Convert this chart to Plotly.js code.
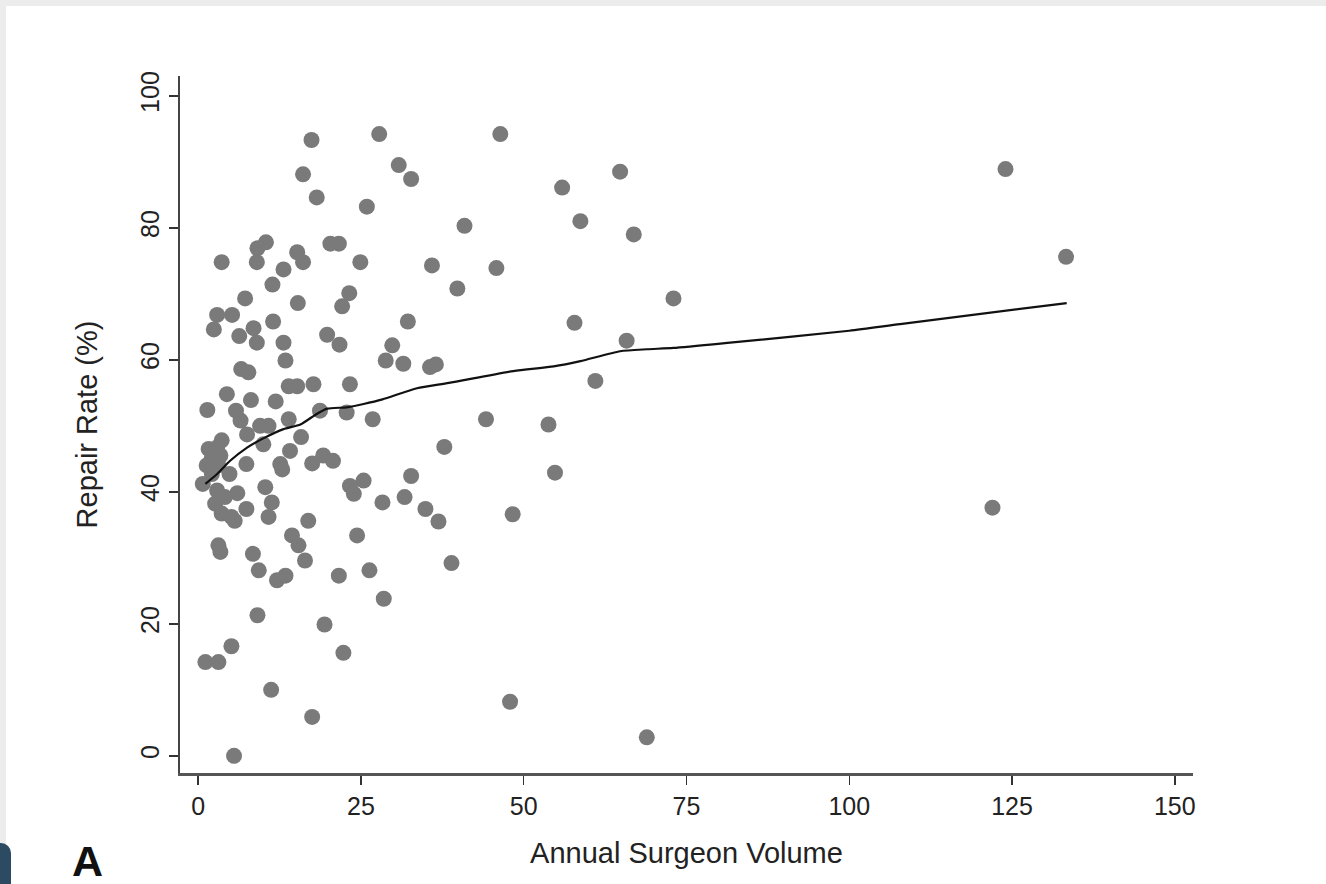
<!DOCTYPE html>
<html>
<head>
<meta charset="utf-8">
<script src="https://cdn.plot.ly/plotly-3.0.1.min.js"></script>
<style>
  html, body { margin: 0; padding: 0; width: 1326px; height: 884px; overflow: hidden; background: #ececec; }
  #card { position: absolute; left: 6px; top: 6px; width: 1320px; height: 878px; background: #ffffff; }
  #tab { position: absolute; left: 0; top: 843px; width: 11px; height: 41px; background: #2d4a63; border-radius: 0 10px 0 0; }
  #chart { position: absolute; left: 0; top: 0; width: 1326px; height: 884px; }
</style>
</head>
<body>
<div id="card"></div>
<div id="tab"></div>
<div id="chart"></div>
<script>
// Surgeon-level data: annual surgeon volume vs repair rate (%)
const surgeonVolume = [
  17.4, 27.8, 46.4, 16.1, 30.8, 32.7, 18.2, 25.9, 55.9, 64.8, 124.0, 40.9, 58.7, 66.9,
  10.4, 9.1, 9.0, 15.2, 16.1, 20.3, 21.6, 24.9, 35.9, 45.8, 3.6, 13.1, 11.4, 39.8, 73.0, 133.3,
  7.2, 15.3, 23.2, 22.1, 2.9, 5.2, 2.4, 11.5, 32.2, 57.8, 6.3, 8.5, 9.0, 13.1, 19.8, 21.7,
  29.8, 65.8, 13.4, 28.8, 31.5, 35.6, 36.5, 6.6, 7.7,
  61.0, 4.4, 13.9, 15.2, 17.7, 23.3, 1.4, 5.8, 8.1, 11.9, 6.5, 9.5, 10.8, 7.5, 10.0, 13.9,
  15.8, 18.7, 22.8, 26.8, 44.2, 53.8, 37.8, 3.6, 1.6, 2.9, 2.1, 3.4, 1.3, 3.1, 2.1, 4.8,
  7.4, 14.1, 12.6, 12.9, 17.5, 19.2, 20.7, 23.3, 25.4, 23.9, 32.7, 54.8, 0.7, 2.9, 6.0, 10.3, 122.0,
  4.1, 28.3, 31.7, 11.3, 2.6, 7.4, 34.9, 3.6, 5.1, 10.8, 16.9, 36.9, 48.3, 5.6,
  3.1, 3.4, 8.4, 9.3, 14.4, 15.4, 16.4, 12.1, 13.4, 24.4, 21.6, 26.3, 28.5, 38.9,
  9.1, 19.4, 22.3, 5.1, 1.1, 3.1, 11.2, 17.5, 5.5, 47.9, 68.9
];
const repairRate = [
  93.3, 94.2, 94.2, 88.1, 89.5, 87.4, 84.6, 83.2, 86.1, 88.5, 88.9, 80.3, 81.0, 79.0,
  77.8, 76.9, 74.8, 76.3, 74.8, 77.6, 77.6, 74.8, 74.3, 73.9, 74.8, 73.7, 71.4, 70.8, 69.3, 75.6,
  69.3, 68.6, 70.1, 68.1, 66.8, 66.8, 64.6, 65.8, 65.8, 65.6, 63.6, 64.8, 62.6, 62.6, 63.8, 62.3,
  62.2, 62.9, 59.9, 59.9, 59.4, 58.9, 59.3, 58.6, 58.1,
  56.8, 54.8, 56.0, 56.0, 56.3, 56.3, 52.4, 52.3, 53.9, 53.7, 50.8, 50.0, 50.0, 48.7, 47.2, 51.0,
  48.3, 52.3, 52.0, 51.0, 51.0, 50.2, 46.8, 47.8, 46.5, 46.7, 45.2, 45.5, 44.0, 44.0, 42.7, 42.7,
  44.2, 46.2, 44.2, 43.4, 44.3, 45.5, 44.7, 40.9, 41.7, 39.7, 42.4, 42.9, 41.2, 40.2, 39.8, 40.7, 37.6,
  39.2, 38.4, 39.2, 38.4, 38.2, 37.4, 37.4, 36.7, 36.2, 36.2, 35.6, 35.5, 36.6, 35.6,
  31.9, 30.9, 30.6, 28.1, 33.4, 31.9, 29.6, 26.6, 27.3, 33.4, 27.3, 28.1, 23.8, 29.2,
  21.3, 19.9, 15.6, 16.6, 14.2, 14.2, 10.0, 5.9, 0.0, 8.2, 2.8
];
// Lowess smoothed fit
const fitVolume = [1.1, 2.9, 4.9, 7.5, 10.0, 13.1, 15.7, 18.2, 19.8, 22.8, 25.4, 28.3, 33.6, 38.5, 48.4, 54.6, 58.7, 64.8, 68.9, 73.0, 81.7, 100.0, 107.8, 133.4];
const fitRate   = [41.2, 42.7, 44.7, 46.7, 48.1, 49.5, 50.2, 51.8, 52.6, 52.8, 53.3, 54.0, 55.7, 56.5, 58.3, 59.0, 59.8, 61.3, 61.6, 61.8, 62.6, 64.4, 65.4, 68.6];

const xTicks = [0, 25, 50, 75, 100, 125, 150];
const yTicks = [0, 20, 40, 60, 80, 100];

const FONT = "'Liberation Sans', Arial, Helvetica, sans-serif";

const traces = [
  {
    type: 'scatter', mode: 'markers',
    x: surgeonVolume, y: repairRate,
    marker: { color: '#7a7a7a', size: 16, line: { width: 0 } },
    hoverinfo: 'x+y', showlegend: false
  },
  {
    type: 'scatter', mode: 'lines',
    x: fitVolume, y: fitRate,
    line: { color: '#111111', width: 2.2, shape: 'spline', smoothing: 0.6 },
    hoverinfo: 'skip', showlegend: false
  }
];

const layout = {
  width: 1326, height: 884,
  paper_bgcolor: 'rgba(0,0,0,0)', plot_bgcolor: 'rgba(0,0,0,0)',
  margin: { l: 180, r: 133, t: 76, b: 111, pad: 0 },
  font: { family: FONT, color: '#222222' },
  xaxis: {
    range: [-2.8, 152.8], tickvals: xTicks, ticktext: xTicks.map(String),
    showgrid: false, zeroline: false,
    showline: true, linecolor: '#555555', linewidth: 2.5,
    ticks: 'outside', ticklen: 9, tickwidth: 1.5, tickcolor: '#333333',
    tickfont: { size: 25, family: FONT, color: '#222222' },
    title: { text: 'Annual Surgeon Volume', font: { size: 29, family: FONT, color: '#222222' }, standoff: 24 }
  },
  yaxis: {
    range: [-2.6, 103], tickvals: yTicks, ticktext: yTicks.map(String),
    showgrid: false, zeroline: false,
    showline: true, linecolor: '#444444', linewidth: 2.5,
    ticks: 'outside', ticklen: 9, tickwidth: 1.5, tickcolor: '#333333',
    tickangle: -90,
    tickfont: { size: 25, family: FONT, color: '#222222' },
    title: { text: 'Repair Rate (%)', font: { size: 29, family: FONT, color: '#222222' }, standoff: 30 }
  },
  annotations: [
    { text: '<b>A</b>', xref: 'paper', yref: 'paper', x: -0.091, y: -0.126,
      xanchor: 'center', yanchor: 'middle', showarrow: false,
      font: { size: 43, family: FONT, color: '#111111' } }
  ]
};

Plotly.newPlot('chart', traces, layout, { displayModeBar: false, staticPlot: true });
</script>
</body>
</html>
